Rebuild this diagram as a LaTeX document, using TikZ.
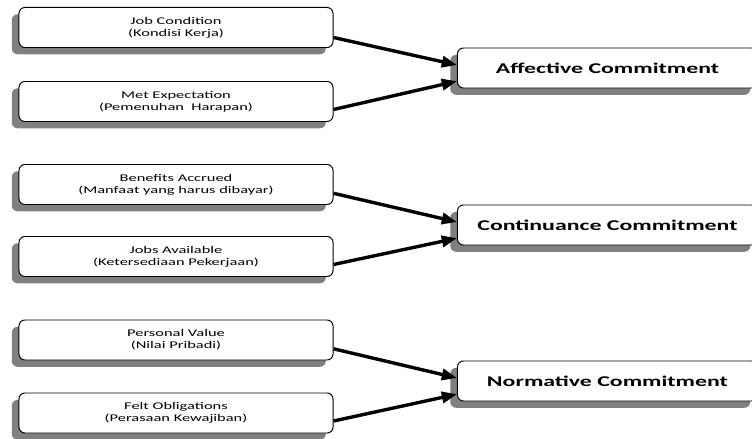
\documentclass[tikz,border=0pt]{standalone}
\usepackage{fontspec}
\setmainfont{Carlito}[FakeStretch=1.6]
\usetikzlibrary{arrows.meta,shadows}
\begin{document}
\begin{tikzpicture}[x=0.025cm, y=-0.025cm, line join=round,
    factor/.style={draw, line width=0.7pt, rounded corners=0.15cm, fill=white,
        minimum width=7.85cm, minimum height=1cm, align=center,
        font=\fontsize{7.3}{8.6}\selectfont,
        drop shadow={shadow xshift=-0.18cm, shadow yshift=-0.17cm, fill=black!50, opacity=1}},
    commit/.style={factor, minimum width=7.5cm, font=\fontsize{10.6}{12}\selectfont\bfseries},
    link/.style={line width=2.4pt, -{Triangle[length=0.38cm, width=0.28cm]}}]
    \clip (0,0) rectangle (752,439);
    \useasboundingbox (0,0) rectangle (752,439);
    % left column
    \node[factor] (jc) at (176,27.5) {Job Condition\\(Kondisi Kerja)};
    \node[factor] (me) at (176,101.5) {Met Expectation\\(Pemenuhan~ Harapan)};
    \node[factor] (ba) at (176,184.5) {Benefits Accrued\\(Manfaat yang harus dibayar)};
    \node[factor] (ja) at (176,256.5) {Jobs Available\\(Ketersediaan Pekerjaan)};
    \node[factor] (pv) at (176,340) {Personal Value\\(Nilai Pribadi)};
    \node[factor] (fo) at (176,413) {Felt Obligations\\(Perasaan Kewajiban)};
    % right column
    \node[commit] (ac) at (607.5,68) {Affective Commitment};
    \node[commit] (cc) at (607.5,225) {Continuance Commitment};
    \node[commit] (nc) at (607.5,381) {Normative Commitment};
    % arrows
    \draw[link] ([yshift=-0.25cm]jc.east) -- ([yshift=0.075cm]ac.west);
    \draw[link] ([yshift=-0.2cm]me.east) -- ([yshift=-0.33cm]ac.west);
    \draw[link] ([yshift=-0.22cm]ba.east) -- ([yshift=0.075cm]cc.west);
    \draw[link] ([yshift=-0.2cm]ja.east) -- ([yshift=-0.33cm]cc.west);
    \draw[link] ([yshift=-0.22cm]pv.east) -- ([yshift=0.075cm]nc.west);
    \draw[link] ([yshift=-0.2cm]fo.east) -- ([yshift=-0.33cm]nc.west);
\end{tikzpicture}
\end{document}
